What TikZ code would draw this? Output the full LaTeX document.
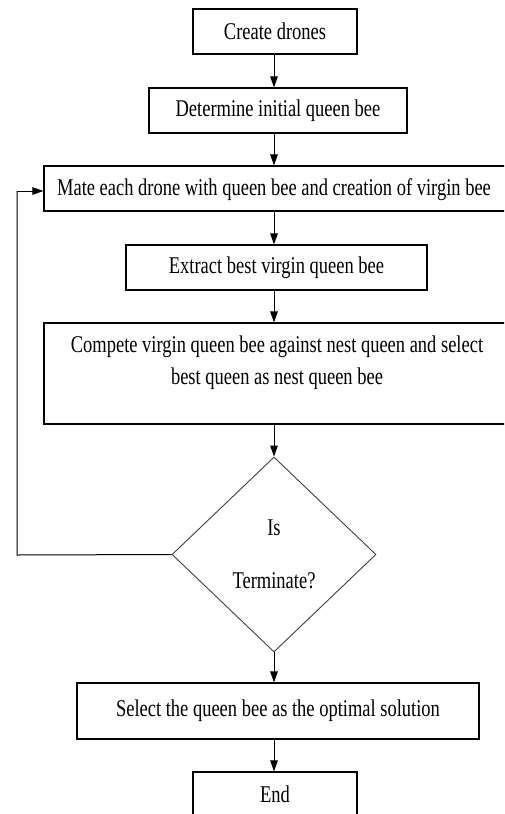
\documentclass[tikz,border=0pt]{standalone}
\usepackage{fontspec}
\setmainfont{Liberation Serif}[FakeStretch=0.77]
\usetikzlibrary{shapes.geometric,arrows.meta}
\begin{document}
\begin{tikzpicture}[x=1pt,y=1pt,
  every node/.style={font=\fontsize{24}{32}\selectfont},
  box/.style={draw=black,line width=1.1pt,rectangle,inner sep=0pt},
  dec/.style={draw=black!75,line width=0.9pt,diamond,inner sep=0pt,align=center},
  arr/.style={draw=black,line width=1pt,-{Triangle[length=11pt,width=7.5pt]}},
  ln/.style={draw=black,line width=1pt}]
\useasboundingbox (0,0) rectangle (504,-814);
\clip (0,0) rectangle (504,-814);
\node[box,minimum width=164,minimum height=45] (create) at (275,-31.5) {Create drones};
\node[box,minimum width=258,minimum height=45] (determine) at (278,-110.5) {Determine initial queen bee};
\node[box,minimum width=462,minimum height=45] (mate) at (275,-188.5) {};
\node (matetext) at (274,-190) {Mate each drone with queen bee and creation of virgin bee};
\node[box,minimum width=301,minimum height=45] (extract) at (276.5,-267.5) {Extract best virgin queen bee};
\node[box,minimum width=462,minimum height=101] (compete) at (275,-373.5) {};
\node[align=center] (competetext) at (277,-363) {Compete virgin queen bee against nest queen and select\\best queen as nest queen bee};
\node[dec,minimum width=204,minimum height=195] (term) at (274,-554.5) {Is\\[21pt]Terminate?};
\node[box,minimum width=402,minimum height=56] (select) at (278,-711) {Select the queen bee as the optimal solution};
\node[box,minimum width=164,minimum height=45] (end) at (275,-794.5) {End};
\coordinate (loopbottom) at (17,-555);
\coordinate (looptop) at (17,-191);
\draw[arr] (274,0 |- create.south) -- (274,0 |- determine.north);
\draw[arr] (274,0 |- determine.south) -- (274,0 |- mate.north);
\draw[arr] (274,0 |- mate.south) -- (274,0 |- extract.north);
\draw[arr] (274,0 |- extract.south) -- (274,0 |- compete.north);
\draw[arr] (274,0 |- compete.south) -- (term.north);
\draw[arr] (term.south) -- (274,0 |- select.north);
\draw[arr] (274,0 |- select.south) -- (274,0 |- end.north);
\draw[ln] (term.west) -- (loopbottom) -- (looptop);
\draw[arr] (looptop) -- (looptop -| mate.west);
\end{tikzpicture}
\end{document}
